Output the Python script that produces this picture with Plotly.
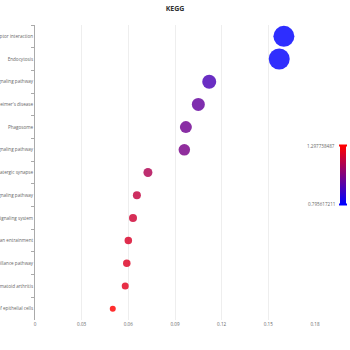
import plotly.graph_objects as go

pathways = [
    "Neuroactive ligand-receptor interaction",
    "Endocytosis",
    "Calcium signaling pathway",
    "Alzheimer's disease",
    "Phagosome",
    "cAMP signaling pathway",
    "Glutamatergic synapse",
    "Rap1 signaling pathway",
    "Phosphatidylinositol signaling system",
    "Circadian entrainment",
    "mRNA surveillance pathway",
    "Rheumatoid arthritis",
    "Bacterial invasion of epithelial cells",
]
rich_factor = [0.160, 0.157, 0.112, 0.105, 0.097, 0.096, 0.0726, 0.0655, 0.063, 0.060, 0.059, 0.058, 0.050]
color_value = [0.795617211, 0.80, 0.94, 0.99, 1.015, 1.03, 1.14, 1.177, 1.20, 1.22, 1.23, 1.24, 1.297738487]
count = [21, 21, 14, 13, 12, 11.5, 9, 8, 8, 7.5, 7.5, 7, 6]

W, H = 350, 350
L, R, T, B = 35, 35, 25, 30
pw, ph = W - L - R, H - T - B

def px_x(v):
    return (v - L) / pw

def px_y(v):
    return (H - B - v) / ph

fig = go.Figure()
fig.add_trace(go.Scatter(
    x=rich_factor,
    y=pathways,
    mode="markers",
    marker=dict(
        size=count,
        sizemode="diameter",
        color=color_value,
        colorscale=[[0, "#0000ff"], [1, "#ff0000"]],
        cmin=min(color_value),
        cmax=max(color_value),
        opacity=0.82,
        line=dict(width=0),
        colorbar=dict(
            thickness=6,
            lenmode="pixels",
            len=58,
            x=px_x(340),
            xanchor="left",
            xpad=0,
            y=px_y(175),
            yanchor="middle",
            ypad=0,
            outlinewidth=0,
            showticklabels=False,
            ticks="",
        ),
    ),
    showlegend=False,
))

lab_font = dict(family="Open Sans, sans-serif", size=4.6, color="#666")
for val, ypix in [(max(color_value), 146), (min(color_value), 204)]:
    fig.add_annotation(
        x=px_x(337), y=px_y(ypix), xref="paper", yref="paper",
        text=f"{val:.9f}", showarrow=False, xanchor="right", yanchor="middle",
        font=lab_font,
    )

# visualMap handles
for ypix, col in [(145.5, "#ff0000"), (204.5, "#0000ff")]:
    fig.add_shape(
        type="rect", xref="paper", yref="paper",
        x0=px_x(339), x1=px_x(347), y0=px_y(ypix - 1), y1=px_y(ypix + 1),
        fillcolor=col, line=dict(width=0), layer="above",
    )

fig.update_layout(
    width=W, height=H,
    margin=dict(l=L, r=R, t=T, b=B, autoexpand=False),
    paper_bgcolor="white", plot_bgcolor="white",
    title=dict(
        text="<b>KEGG</b>", x=0.5, xanchor="center", xref="container",
        y=1 - 9 / H, yanchor="middle", yref="container",
        font=dict(family="Open Sans, sans-serif", size=7, color="#333"),
    ),
    xaxis=dict(
        range=[0, 0.18], tick0=0, dtick=0.03,
        showgrid=True, gridcolor="#eeeeee", gridwidth=1,
        zeroline=False, showline=False, ticks="",
        tickfont=lab_font, automargin=False,
    ),
    yaxis=dict(
        type="category",
        categoryorder="array", categoryarray=pathways,
        range=[len(pathways) - 0.5, -0.5],
        showgrid=False, zeroline=False,
        showline=True, linecolor="#aaaaaa", linewidth=1,
        ticks="outside", ticklen=3, tickcolor="#aaaaaa", tickson="boundaries",
        tickfont=lab_font, automargin=False,
    ),
)

fig.write_html("out.html")
